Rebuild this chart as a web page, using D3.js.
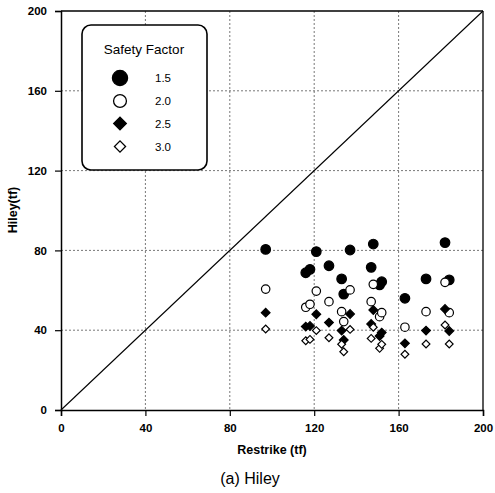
<!DOCTYPE html>
<html><head><meta charset="utf-8">
<script src="https://cdn.jsdelivr.net/npm/d3@7"></script>
<style>body{margin:0;background:#fff}svg{display:block}</style>
</head><body>
<svg id="c" width="495" height="493"></svg>
<script>
const restrike = [97,116,118,121,127,133,134,137,147,148,151,152,163,173,182,184];
const sf15 = [80.5,68.8,70.5,79.4,72.3,65.7,58.1,80.2,71.5,83.2,62.7,64.3,56,65.7,83.9,65.2];
const sf20 = [60.6,51.5,53,59.6,54.3,49.3,44.3,60.2,54.3,63,46.8,48.8,41.5,49.3,64,48.8];
const sf25 = [48.8,41.8,42.1,48,43.8,39.8,35.1,48.1,43.1,50.1,37.1,38.8,33.4,39.8,50.6,39.6];
const sf30 = [40.6,34.7,35.4,39.8,36.2,33,29.2,40.4,35.9,41.5,30.9,32.9,27.9,33.1,42.6,33.1];
const seriesNames = ["1.5","2.0","2.5","3.0"];
const ticks = [0,40,80,120,160,200];

const svg = d3.select("#c");
const L=61,T=11,R=483,B=410;
const x = d3.scaleLinear().domain([0,200]).range([L,R]);
const y = d3.scaleLinear().domain([0,200]).range([B,T]);
const font = "'Liberation Sans', Arial, sans-serif";

// gridlines
const g = svg.append("g");
ticks.filter(t=>t>0&&t<200).forEach(t=>{
  g.append("line").attr("x1",x(t)).attr("x2",x(t)).attr("y1",T).attr("y2",B)
   .attr("stroke","#555").attr("stroke-width",0.8).attr("stroke-dasharray","2,2");
  g.append("line").attr("x1",L).attr("x2",R).attr("y1",y(t)).attr("y2",y(t))
   .attr("stroke","#555").attr("stroke-width",0.8).attr("stroke-dasharray","2,2");
});

// frame top/right
svg.append("line").attr("x1",L).attr("x2",R).attr("y1",T).attr("y2",T).attr("stroke","#000").attr("stroke-width",1.3);
svg.append("line").attr("x1",R).attr("x2",R).attr("y1",T).attr("y2",B).attr("stroke","#000").attr("stroke-width",1.3);

// axes
const xa = svg.append("g").attr("transform",`translate(0,${B})`)
  .call(d3.axisBottom(x).tickValues(ticks).tickSize(6).tickPadding(8).tickFormat(d3.format("d")));
const ya = svg.append("g").attr("transform",`translate(${L},0)`)
  .call(d3.axisLeft(y).tickValues(ticks).tickSize(6).tickPadding(8).tickFormat(d3.format("d")));
[xa,ya].forEach(a=>{
  a.select(".domain").attr("stroke","#000").attr("stroke-width",1.5);
  a.selectAll(".tick line").attr("stroke","#000").attr("stroke-width",1.2);
  a.selectAll("text").attr("font-family",font).attr("font-weight","bold").attr("font-size",11.5).attr("fill","#000");
});

// diagonal
svg.append("line").attr("x1",x(0)).attr("y1",y(0)).attr("x2",x(200)).attr("y2",y(200))
  .attr("stroke","#000").attr("stroke-width",1.1);

// series
const circ = d3.symbol().type(d3.symbolCircle);
const sq = d3.symbol().type(d3.symbolSquare);
const styles = [
  {vals:sf15, sym:circ, size:72, fill:"#000", rot:0, lsize:180},
  {vals:sf20, sym:circ, size:56, fill:"#fff", rot:0, lsize:130},
  {vals:sf25, sym:sq, size:38, fill:"#000", rot:45, lsize:80},
  {vals:sf30, sym:sq, size:30, fill:"#fff", rot:45, lsize:62}
];
styles.forEach(s=>{
  svg.append("g").selectAll("path").data(s.vals).join("path")
    .attr("d", s.sym.size(s.size)())
    .attr("transform",(d,i)=>`translate(${x(restrike[i])},${y(d)}) rotate(${s.rot})`)
    .attr("fill",s.fill).attr("stroke","#000").attr("stroke-width",1.2);
});

// legend
const lg = svg.append("g");
lg.append("rect").attr("x",82).attr("y",25).attr("width",125).attr("height",145)
  .attr("rx",9).attr("fill","#fff").attr("stroke","#000").attr("stroke-width",1.6);
lg.append("text").attr("x",144).attr("y",54).attr("text-anchor","middle")
  .attr("font-family",font).attr("font-size",13.5).text("Safety Factor");
const ly = [78,101,123.5,146.5];
styles.forEach((s,i)=>{
  lg.append("path").attr("d", s.sym.size(s.lsize)())
    .attr("transform",`translate(120,${ly[i]}) rotate(${s.rot})`)
    .attr("fill",s.fill).attr("stroke","#000").attr("stroke-width",1.3);
  lg.append("text").attr("x",155).attr("y",ly[i]+4).attr("font-family",font)
    .attr("font-size",11.5).text(seriesNames[i]);
});

// titles
svg.append("text").attr("x",272).attr("y",454).attr("text-anchor","middle")
  .attr("font-family",font).attr("font-weight","bold").attr("font-size",12.5).text("Restrike (tf)");
svg.append("text").attr("transform","translate(17,210) rotate(-90)").attr("text-anchor","middle")
  .attr("font-family",font).attr("font-weight","bold").attr("font-size",12.5).text("Hiley(tf)");
svg.append("text").attr("x",250).attr("y",484).attr("text-anchor","middle")
  .attr("font-family",font).attr("font-size",16).text("(a)  Hiley");
</script>
</body></html>
